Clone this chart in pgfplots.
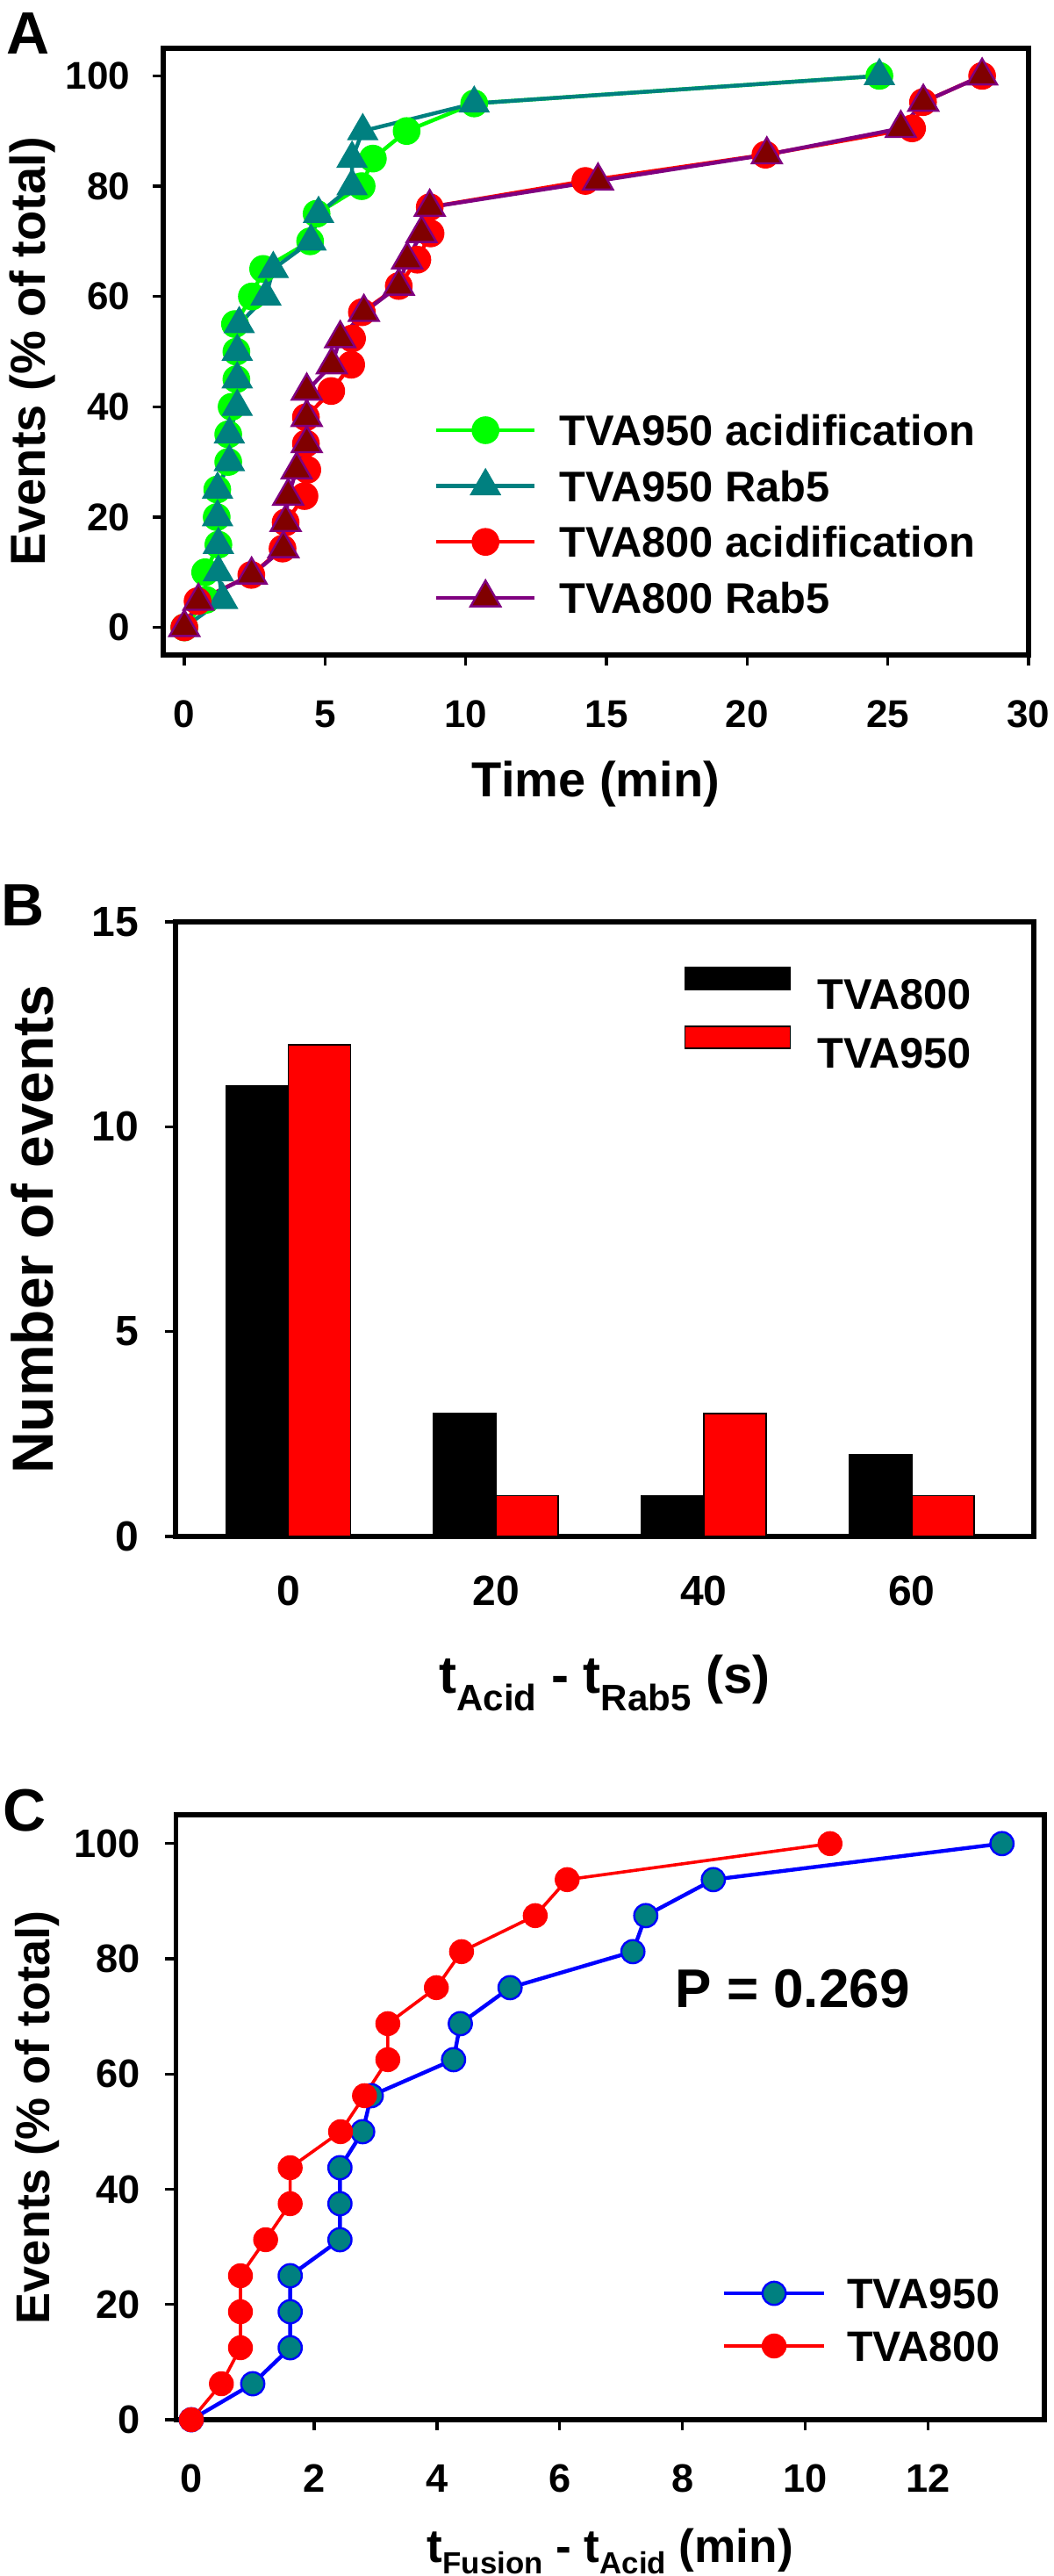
\documentclass[border=0pt]{standalone}
\usepackage{pgfplots}
\pgfplotsset{compat=1.18}
\usepackage{fontspec}
\setmainfont{Liberation Sans}
\definecolor{cGreen}{RGB}{0,255,0}
\definecolor{cTeal}{RGB}{0,128,128}
\definecolor{cRed}{RGB}{255,0,0}
\definecolor{cPurple}{RGB}{128,0,128}
\definecolor{cDarkRed}{RGB}{128,0,0}
\definecolor{cBlue}{RGB}{0,0,255}
\newcommand{\fs}[1]{\fontsize{#1}{#1}\selectfont\bfseries}
\pgfplotsset{
  panel/.style={
    scale only axis,
    axis line style={line width=1.4pt},
    tick align=inside,
    tick pos=left,
    major tick length=-3pt,
    every tick/.style={black, line width=0.8pt},
    minor tick num=0,
    /pgf/number format/assume math mode=true,
    clip=false,
    legend cell align=left,
  },
}
\begin{document}
\begin{tikzpicture}
\useasboundingbox (0,0) rectangle (300pt,-733.5pt);
\node[font=\fs{17}] at (8pt,-9.5pt) {A};
\node[font=\fs{17}] at (6.5pt,-257.75pt) {B};
\node[font=\fs{17}] at (7pt,-515.5pt) {C};

% ---------------- Panel A ----------------
\begin{axis}[panel,
  at={(46.5pt,-186.5pt)}, anchor=south west,
  width=246.5pt, height=172.75pt,
  xmin=-0.75, xmax=30, ymin=-5, ymax=105,
  xtick={0,5,...,30}, ytick={0,20,...,100},
  xticklabel style={font=\fs{11}, inner sep=0pt, anchor=base, yshift=-20.5pt},
  yticklabel style={font=\fs{11}, inner sep=0pt, anchor=east, xshift=-9.25pt},
  xlabel={Time (min)},
  xlabel style={font=\fs{14}, at={(axis description cs:0.5,-0.2344)}, anchor=base},
  ylabel={Events (\% of total)},
  ylabel style={font=\fs{14}, at={(axis description cs:-0.1363,0.5)}, anchor=base},
  legend style={draw=none, fill=none, inner sep=0pt, outer sep=0pt,
    at={(axis description cs:0.3134,0.4165)}, anchor=north west,
    font=\fs{12.2}, row sep=0pt, column sep=6.5pt,
    nodes={inner sep=0pt, text height=12.35pt, text depth=3.55pt}},
  legend image code/.code={\draw[#1, mark repeat=2, mark phase=2] plot coordinates {(0pt,0pt) (14pt,0pt) (28pt,0pt)};},
]
\addplot[cGreen, line width=1.1pt, mark=*, mark size=3.8pt, mark options={fill=cGreen, draw=cGreen, line width=0.3pt}] coordinates {
(0,0) (0.77,5) (0.74,10) (1.21,15) (1.15,20) (1.17,25) (1.56,30) (1.56,35) (1.68,40) (1.85,45) (1.85,50) (1.8,55) (2.4,60) (2.8,65) (4.47,70) (4.7,75) (6.3,80) (6.7,85) (7.9,90) (10.3,95) (24.7,100)};
\addlegendentry{TVA950 acidification}
\addplot[cTeal, line width=1.1pt, mark=triangle*, mark size=4.9pt, mark options={fill=cTeal, draw=cTeal, line width=0.3pt}] coordinates {
(0,0) (1.36,5) (1.21,10) (1.21,15) (1.18,20) (1.18,25) (1.6,30) (1.6,35) (1.88,40) (1.88,45) (1.88,50) (1.95,55) (2.9,60) (3.16,65) (4.5,70) (4.77,75) (5.96,80) (5.96,85) (6.34,90) (10.3,95) (24.7,100)};
\addlegendentry{TVA950 Rab5}
\addplot[cRed, line width=1.1pt, mark=*, mark size=3.8pt, mark options={fill=cRed, draw=cRed, line width=0.3pt}] coordinates {
(0,0) (0.47,4.76) (2.38,9.52) (3.49,14.29) (3.6,19.05) (4.27,23.81) (4.37,28.57) (4.32,33.33) (4.32,38.10) (5.22,42.86) (5.93,47.62) (5.96,52.38) (6.31,57.14) (7.62,61.90) (8.28,66.67) (8.75,71.43) (8.72,76.19) (14.25,80.95) (20.65,85.71) (25.86,90.48) (26.25,95.24) (28.35,100)};
\addlegendentry{TVA800 acidification}
\addplot[cPurple, line width=1.1pt, mark=triangle*, mark size=4.9pt, mark options={fill=cDarkRed, draw=cPurple, line width=0.6pt}] coordinates {
(0,0) (0.5,4.76) (2.39,9.52) (3.52,14.29) (3.6,19.05) (3.69,23.81) (3.99,28.57) (4.35,33.33) (4.35,38.10) (4.35,42.86) (5.24,47.62) (5.54,52.38) (6.38,57.14) (7.62,61.90) (7.92,66.67) (8.43,71.43) (8.72,76.19) (14.7,80.95) (20.7,85.71) (25.46,90.48) (26.26,95.24) (28.35,100)};
\addlegendentry{TVA800 Rab5}
\end{axis}

% ---------------- Panel B ----------------
\begin{axis}[panel,
  at={(50pt,-437.5pt)}, anchor=south west,
  width=244.5pt, height=175pt,
  xmin=-10.86, xmax=71.77, ymin=0, ymax=15,
  xtick={0,20,40,60}, ytick={0,5,10,15},
  ybar, bar width=6,
  xticklabel style={font=\fs{12}, inner sep=0pt, anchor=base, yshift=-22.5pt},
  yticklabel style={font=\fs{12}, inner sep=0pt, anchor=east, xshift=-10.25pt},
  xlabel={t\raisebox{-5pt}{\fs{10.5}Acid} - t\raisebox{-5pt}{\fs{10.5}Rab5} (s)},
  xlabel style={font=\fs{15}, at={(axis description cs:0.5,-0.2543)}, anchor=base},
  ylabel={Number of events},
  ylabel style={font=\fs{16.5}, at={(axis description cs:-0.1427,0.5)}, anchor=base},
  legend style={draw=none, fill=none, inner sep=0pt, outer sep=0pt,
    at={(axis description cs:0.5928,0.9306)}, anchor=north west,
    font=\fs{12.2}, row sep=0pt, column sep=7.5pt,
    nodes={inner sep=0pt, text height=12.725pt, text depth=4.025pt}},
  legend image code/.code={\draw[#1,/tikz/.cd] (0pt,1.25pt) rectangle (30pt,7.5pt);},
]
\addplot[fill=black, draw=black, line width=0.4pt, bar shift=-3] coordinates {(0,11) (20,3) (40,1) (60,2)};
\addlegendentry{TVA800}
\addplot[fill=cRed, draw=black, line width=0.4pt, bar shift=3] coordinates {(0,12) (20,1) (40,3) (60,1)};
\addlegendentry{TVA950}
\end{axis}

% ---------------- Panel C ----------------
\begin{axis}[panel,
  at={(50.125pt,-689pt)}, anchor=south west,
  width=247.375pt, height=172.25pt,
  xmin=-0.25, xmax=13.89, ymin=0, ymax=105,
  xtick={0,2,...,12}, ytick={0,20,...,100},
  xticklabel style={font=\fs{11.3}, inner sep=0pt, anchor=base, yshift=-20.5pt},
  yticklabel style={font=\fs{11.3}, inner sep=0pt, anchor=east, xshift=-9.9pt},
  xlabel={t\raisebox{-3.3pt}{\fs{8.7}Fusion} - t\raisebox{-3.3pt}{\fs{8.7}Acid} (min)},
  xlabel style={font=\fs{13.3}, at={(axis description cs:0.5,-0.2351)}, anchor=base},
  ylabel={Events (\% of total)},
  ylabel style={font=\fs{13.5}, at={(axis description cs:-0.1451,0.5)}, anchor=base},
  legend style={draw=none, fill=none, inner sep=0pt, outer sep=0pt,
    at={(axis description cs:0.629,0.2525)}, anchor=north west,
    font=\fs{12.1}, row sep=0pt, column sep=6pt,
    nodes={inner sep=0pt, text height=11.85pt, text depth=3.15pt}},
  legend image code/.code={\draw[#1, mark repeat=2, mark phase=2] plot coordinates {(0pt,0pt) (14.25pt,0pt) (28.5pt,0pt)};},
]
\addplot[cBlue, line width=1.1pt, mark=*, mark size=3.3pt, mark options={fill=cTeal, draw=cBlue, line width=0.6pt}] coordinates {
(0,0) (1.0,6.25) (1.61,12.5) (1.61,18.75) (1.61,25) (2.42,31.25) (2.42,37.5) (2.42,43.75) (2.79,50) (2.93,56.25) (4.27,62.5) (4.38,68.75) (5.19,75) (7.19,81.25) (7.4,87.5) (8.5,93.75) (13.2,100)};
\addlegendentry{TVA950}
\addplot[cRed, line width=0.9pt, mark=*, mark size=3.4pt, mark options={fill=cRed, draw=cRed, line width=0.3pt}] coordinates {
(0,0) (0.49,6.25) (0.8,12.5) (0.8,18.75) (0.8,25) (1.21,31.25) (1.61,37.5) (1.61,43.75) (2.43,50) (2.82,56.25) (3.2,62.5) (3.2,68.75) (3.99,75) (4.4,81.25) (5.6,87.5) (6.12,93.75) (10.4,100)};
\addlegendentry{TVA800}
\node[font=\fs{15.5}] at (axis cs:9.79,74.8) {P = 0.269};
\end{axis}
\end{tikzpicture}
\end{document}
